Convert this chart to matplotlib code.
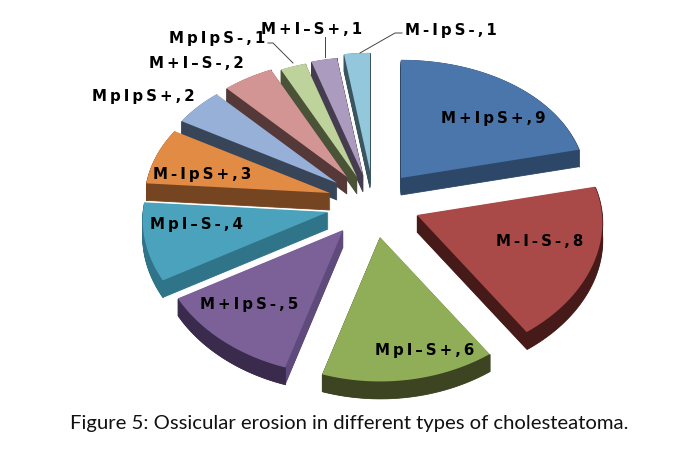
import numpy as np
import matplotlib
matplotlib.use("Agg")
import matplotlib.pyplot as plt

labels = ["M+IpS+,9", "M-I-S-,8", "MpI–S+,6", "M+IpS-,5", "MpI–S-,4", "M-IpS+,3",
          "MpIpS+,2", "M+I–S-,2", "MpIpS-,1", "M+I–S+,1", "M-IpS-,1"]
values = [9, 8, 6, 5, 4, 3, 2, 2, 1, 1, 1]
top_colors = ["#4a76ac", "#aa4a48", "#90ad57", "#7c6198", "#4aa2bc", "#e28b45",
              "#96b0d7", "#d39594", "#bed39b", "#ab9bbf", "#93c7dc"]
side_colors = ["#2c4768", "#451a18", "#3c4422", "#5f4a7c", "#2f7488", "#744520",
               "#384558", "#553838", "#4a5238", "#453c50", "#3a5560"]
arc_colors = ["#2c4768", "#451a18", "#3c4422", "#3a2b4c", "#2f7488", "#744520",
              "#384558", "#553838", "#4a5238", "#453c50", "#3a5560"]
tips = [(401, 178), (417, 215), (380, 237), (343, 230), (328, 212), (330, 193),
        (337, 183), (347, 177), (357, 177), (363, 175), (370, 171)]
label_pos = [(493, 119), (540, 241), (425, 350), (249, 304), (197, 225), (202, 175),
             (143, 96), (196, 64), (217, 39), (312, 29), (451, 30)]
leaders = {8: [(268, 43), (273, 43), (293, 63)],
           9: [(325, 37), (325, 57)],
           10: [(402, 33), (395, 33), (360, 53)]}
RX, RY, PERSP_X, PERSP_Y, DEPTH = 185, 130, 0.06, 0.10, 17

fig = plt.figure(figsize=(6.9, 4.54), dpi=100)
ax = fig.add_axes([0, 0, 1, 1])
ax.set_xlim(0, 690)
ax.set_ylim(454, 0)
ax.axis("off")

def spaced(s):
    return "\u2009".join(s)

edges = np.cumsum([0] + values) / sum(values) * 2 * np.pi
for i in range(len(values)):
    t = np.linspace(edges[i], edges[i + 1], 60)
    ux, uy = np.sin(t), np.cos(t)
    px = tips[i][0] + RX * ux / (1 + PERSP_X * uy)
    py = tips[i][1] - RY * uy / (1 + PERSP_Y * uy)
    xs = np.r_[tips[i][0], px]
    ys = np.r_[tips[i][1], py]
    order = 20 - abs(i - 2)
    for d in range(DEPTH, 0, -1):
        ax.fill(xs, ys + d, color=side_colors[i], lw=0.6, zorder=order)
    ax.fill_between(px, py, py + DEPTH, color=arc_colors[i], lw=0.5, zorder=order + 0.2)
    ax.fill(xs, ys, color=top_colors[i], lw=0, zorder=order + 0.5)

for i, (x, y) in enumerate(label_pos):
    ax.text(x, y, spaced(labels[i]), ha="center", va="center", fontsize=10.8,
            fontweight="bold", family="DejaVu Sans", color="black", zorder=40)

for pts in leaders.values():
    a = np.array(pts)
    ax.plot(a[:, 0], a[:, 1], color="#444444", lw=0.7, zorder=35)

ax.text(349, 424, "Figure 5: Ossicular erosion in different types of cholesteatoma.",
        ha="center", va="center", fontsize=14.6, family="Lato", color="#111111")
fig.savefig("out.png", dpi=100)
